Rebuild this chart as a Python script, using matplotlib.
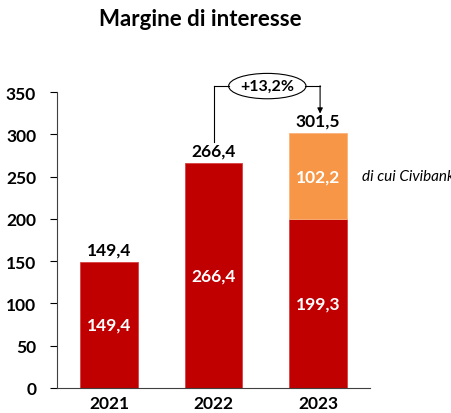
import matplotlib.pyplot as plt
from matplotlib.patches import Ellipse

years = ['2021', '2022', '2023']
base = [149.4, 266.4, 199.3]
civibank = [0, 0, 102.2]
totals = [149.4, 266.4, 301.5]
growth_label = '+13,2%'

RED = '#C00000'
ORANGE = '#F79646'

plt.rcParams['font.family'] = ['Lato', 'DejaVu Sans']

fig = plt.figure(figsize=(4.52, 4.14), dpi=100)
ax = fig.add_axes([57/452, 25/414, 313/452, 296/414])

x = list(range(len(years)))
w = 0.555
ax.bar(x, base, width=w, color=RED, edgecolor='#D84040', linewidth=0.6)
ax.bar(x[2], civibank[2], bottom=base[2], width=w, color=ORANGE,
       edgecolor='#FBB27A', linewidth=0.6)

def fmt(v):
    return ('%.1f' % v).replace('.', ',')

# white labels inside bars
for i in x:
    ax.text(i, base[i] / 2, fmt(base[i]), ha='center', va='center',
            color='white', fontsize=12.5, fontweight='bold')
ax.text(2, base[2] + civibank[2] / 2, fmt(civibank[2]), ha='center',
        va='center', color='white', fontsize=12.5, fontweight='bold')

# totals above bars
for i in x:
    ax.text(i, totals[i] + 5, fmt(totals[i]), ha='center', va='bottom',
            color='black', fontsize=12.5, fontweight='bold')

ax.text(2.42, base[2] + civibank[2] / 2, 'di cui Civibank', ha='left',
        va='center', fontsize=11, style='italic', clip_on=False)

# growth bracket
y_top = 357
ax.plot([1, 1], [totals[1] + 25, y_top], color='black', lw=0.8, clip_on=False)
ax.plot([1, 1.15], [y_top, y_top], color='black', lw=0.8, clip_on=False)
ax.plot([1.88, 2.02], [y_top, y_top], color='black', lw=0.8, clip_on=False)
ax.annotate('', xy=(2.02, totals[2] + 23), xytext=(2.02, y_top + 0.4),
            arrowprops=dict(arrowstyle='-|>', color='black', lw=0.8,
                            mutation_scale=8, shrinkA=0, shrinkB=0),
            annotation_clip=False)
ax.add_patch(Ellipse((1.515, y_top), 0.74, 30, facecolor='white',
                     edgecolor='black', lw=0.8, clip_on=False))
ax.text(1.515, y_top, growth_label, ha='center', va='center', fontsize=11.5,
        fontweight='bold')

ax.set_xlim(-0.4976, 2.4976)
ax.set_ylim(0, 350)
ax.set_yticks(range(0, 351, 50))
ax.set_xticks(x)
ax.set_xticklabels(years)
for lab in ax.get_xticklabels() + ax.get_yticklabels():
    lab.set_fontweight('bold')
    lab.set_fontsize(12.5)
ax.tick_params(axis='x', length=0, pad=5)
ax.tick_params(axis='y', length=5, width=0.8, pad=10)
ax.spines['top'].set_visible(False)
ax.spines['right'].set_visible(False)
ax.spines['left'].set_color('#404040')
ax.spines['bottom'].set_color('#404040')

fig.text(200/452, 1 - 20/414, 'Margine di interesse', ha='center',
         va='center', fontsize=16, fontweight='bold')

fig.savefig('out.png', dpi=100)
